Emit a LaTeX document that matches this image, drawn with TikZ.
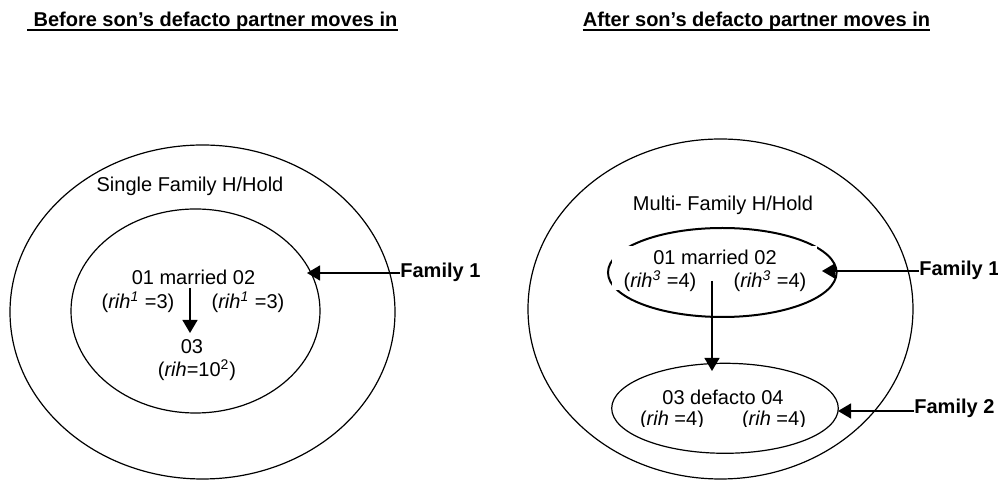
\documentclass[tikz,border=0pt]{standalone}
\usepackage{fontspec}
\setmainfont{Liberation Sans}
\usetikzlibrary{arrows.meta,shapes.geometric}
\begin{document}
\begin{tikzpicture}[x=0.5pt,y=-0.5pt,
  oval/.style={draw,ellipse,inner sep=0pt,line width=0.6pt},
  txt/.style={inner sep=0pt},
  lbl/.style={inner sep=0pt,font=\bfseries},
  arr/.style={line width=0.65pt,-{Triangle[length=6.5pt,width=7.5pt]}},
  uline/.style={line width=1.2pt},
]
\useasboundingbox (0,0) rectangle (998,480);

% ---------- headings ----------
\node[lbl,anchor=base] (h1) at (215.5,26.5) {Before son’s defacto partner moves in};
\node[lbl,anchor=base] (h2) at (756.5,26.5) {After son’s defacto partner moves in};
\draw[uline] ([xshift=-3pt,yshift=-1.8pt]h1.base west) -- ([yshift=-1.8pt]h1.base east);
\draw[uline] ([yshift=-1.8pt]h2.base west) -- ([yshift=-1.8pt]h2.base east);

% ---------- single family household ----------
\node[oval,minimum width=192.5pt,minimum height=167pt] (o1) at (202.5,312) {};
\node[oval,minimum width=124.5pt,minimum height=102pt] (i1) at (195.5,311) {};
\node[txt] (s1) at (190,186.5) {Single Family H/Hold};
\node[txt] (m1) at (193.5,277) {01 married 02};
\node[txt] (r1a) at (138,302) {(\textit{rih}\textsuperscript{\textit{1}} =3)};
\node[txt] (r1b) at (248,302) {(\textit{rih}\textsuperscript{\textit{1}} =3)};
\node[txt] (c1) at (192,347) {03};
\node[txt] (r1c) at (197,370) {(\textit{rih}=10\textsuperscript{2})};
\node[lbl,anchor=west] (f1l) at (400,272) {Family 1};
\coordinate (a1s) at (190,288);
\coordinate (a1t) at (190,333);
\coordinate (f1lt) at (307,273);
\draw[arr] (a1s) -- (a1t);
\draw[arr] (f1l.west |- f1lt) -- (f1lt);

% ---------- multi-family household ----------
\node[oval,minimum width=192.5pt,minimum height=170pt] (o2) at (720.5,309) {};
\node[oval,line width=1pt,minimum width=114.3pt,minimum height=44.5pt] (fa) at (722.3,272.5) {};
\node[oval,minimum width=113.3pt,minimum height=45pt] (fb) at (725,408.3) {};
\fill[white] (612,246) rectangle (817,290);
\node[txt] (s2) at (723,205) {Multi- Family H/Hold};
\node[txt] (m2) at (715,257.3) {01 married 02};
\node[txt] (r2a) at (660,281) {(\textit{rih}\textsuperscript{\textit{3}} =4)};
\node[txt] (r2b) at (770,281) {(\textit{rih}\textsuperscript{\textit{3}} =4)};
\node[txt] (d2) at (723,397) {03 defacto 04};
\begin{scope}
  \clip (600,380) rectangle (850,426.5);
  \node[txt] (r2c) at (672,420) {(\textit{rih} =4)};
  \node[txt] (r2d) at (774,420) {(\textit{rih} =4)};
\end{scope}
\node[lbl,anchor=west] (f1r) at (919,270) {Family 1};
\node[lbl,anchor=west] (f2r) at (914,408) {Family 2};
\coordinate (a2s) at (712,281);
\coordinate (a2t) at (712,371);
\coordinate (f1rt) at (822,271);
\coordinate (f2rt) at (838,411);
\draw[arr] (a2s) -- (a2t);
\draw[arr] (f1r.west |- f1rt) -- (f1rt);
\draw[arr] (f2r.west |- f2rt) -- (f2rt);
\end{tikzpicture}
\end{document}
